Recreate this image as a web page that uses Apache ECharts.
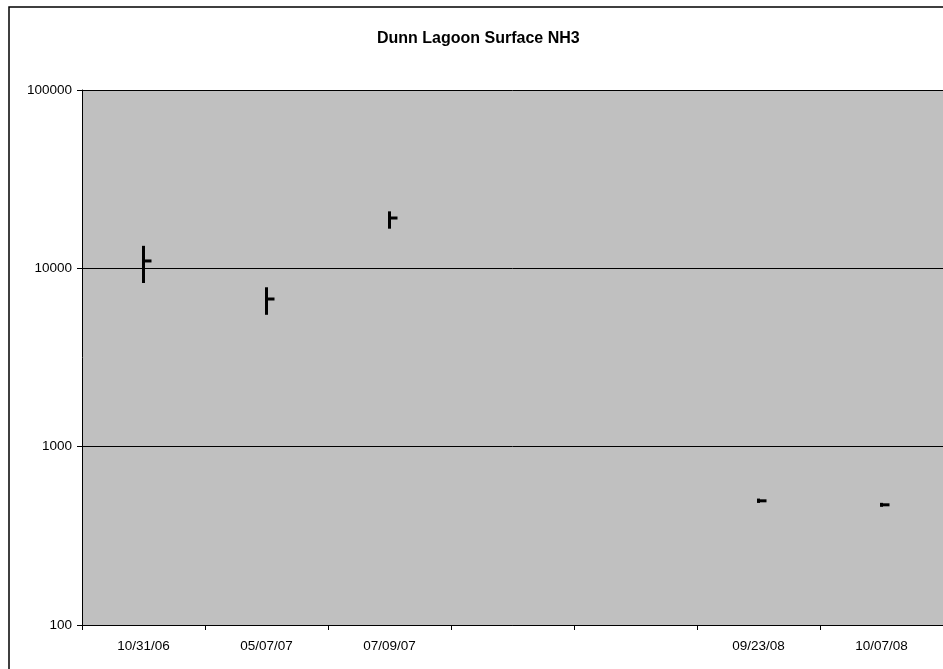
<!DOCTYPE html>
<html>
<head>
<meta charset="utf-8">
<script src="https://cdn.jsdelivr.net/npm/echarts@6/dist/echarts.min.js"></script>
<style>
  html, body { margin: 0; padding: 0; background: #fff; }
  #chart { width: 943px; height: 669px; }
</style>
</head>
<body>
<div id="chart"></div>
<script>
// sample dates (two empty slots as in the original)
const dates = ['10/31/06', '05/07/07', '07/09/07', '', '', '09/23/08', '10/07/08'];
// high / low / close readings
const highs = [13200, 7730, 20600, null, null, 505, 478];
const lows = [8380, 5560, 16900, null, null, 490, 466];
const closes = [11000, 6730, 19150, null, null, 497, 472];

const hlc = [];
dates.forEach((d, i) => {
  if (highs[i] != null) hlc.push([i, lows[i], highs[i], closes[i]]);
});

const chart = echarts.init(document.getElementById('chart'));

const option = {
  animation: false,
  backgroundColor: '#fff',
  title: {
    text: 'Dunn Lagoon Surface NH3',
    left: 372,
    top: 26,
    textStyle: { fontFamily: 'Liberation Sans', fontSize: 16, fontWeight: 'bold', color: '#000' }
  },
  graphic: [{
    type: 'rect',
    shape: { x: 9, y: 7, width: 1000, height: 800 },
    style: { fill: 'none', stroke: '#000', lineWidth: 1.5 },
    silent: true
  }],
  grid: { left: 82, right: 0, top: 90, bottom: 44, show: true, backgroundColor: '#c0c0c0', borderWidth: 0 },
  xAxis: {
    type: 'category',
    data: dates,
    boundaryGap: true,
    axisLine: { lineStyle: { color: '#000', width: 1 } },
    axisTick: { show: true, length: 5, lineStyle: { color: '#000' } },
    axisLabel: { fontFamily: 'Liberation Sans', fontSize: 13.5, color: '#000', margin: 14 },
    splitLine: { show: false }
  },
  yAxis: {
    type: 'log',
    logBase: 10,
    min: 100,
    max: 100000,
    axisLine: { show: true, lineStyle: { color: '#000', width: 1 } },
    axisTick: { show: true, length: 5, lineStyle: { color: '#000' } },
    axisLabel: {
      fontFamily: 'Liberation Sans', fontSize: 13.5, color: '#000', margin: 10,
      formatter: v => String(Math.round(v))
    },
    splitLine: { show: true, lineStyle: { color: '#000', width: 1 } },
    minorTick: { show: false }
  },
  series: [{
    type: 'custom',
    data: hlc,
    encode: { x: 0, y: [1, 2, 3] },
    renderItem: function (params, api) {
      const lo = api.coord([api.value(0), api.value(1)]);
      const hi = api.coord([api.value(0), api.value(2)]);
      const cl = api.coord([api.value(0), api.value(3)]);
      return {
        type: 'group',
        children: [
          { type: 'line', shape: { x1: lo[0], y1: lo[1] + 1, x2: hi[0], y2: hi[1] - 1 }, style: { stroke: '#000', lineWidth: 3 } },
          { type: 'line', shape: { x1: cl[0], y1: cl[1], x2: cl[0] + 8, y2: cl[1] }, style: { stroke: '#000', lineWidth: 3 } }
        ]
      };
    }
  }]
};

chart.setOption(option);
</script>
</body>
</html>
